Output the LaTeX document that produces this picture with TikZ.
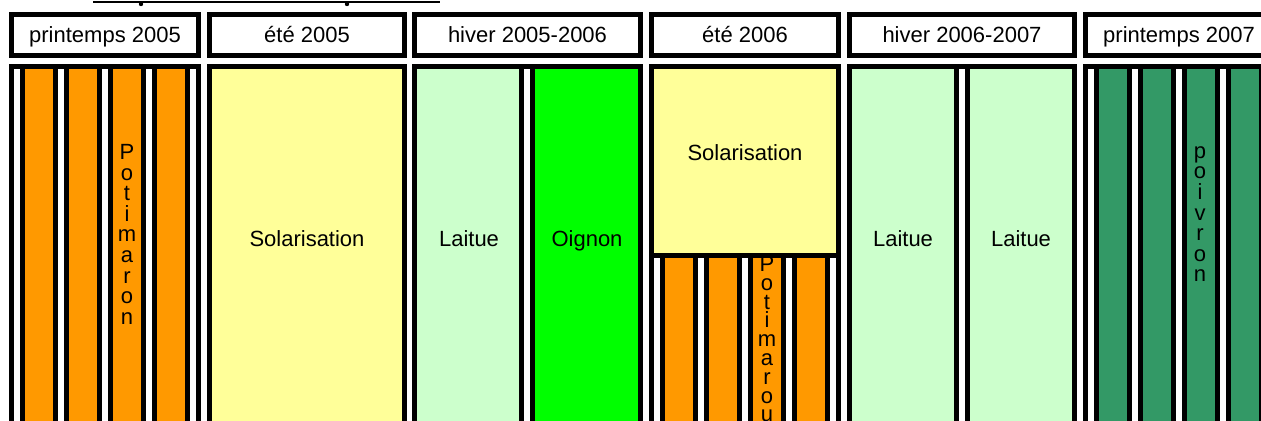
\documentclass[tikz,border=0pt]{standalone}
\usepackage{fontspec}
\setmainfont{Liberation Sans}
\definecolor{potiron}{HTML}{FF9900}
\definecolor{solaire}{HTML}{FFFF99}
\definecolor{laitue}{HTML}{CCFFCC}
\definecolor{oignon}{HTML}{00FF00}
\definecolor{poivron}{HTML}{339966}

\begin{document}
\begin{tikzpicture}[x=0.5pt, y=-0.5pt,
    cell/.style={draw, line width=2.5pt},
    label/.style={font=\fontsize{11}{13}\selectfont, anchor=base},
    lettres/.style={font=\fontsize{11}{10.3}\selectfont, align=center, inner sep=0pt, anchor=north}]
\useasboundingbox (0,0) rectangle (1261,421);

% trait du haut
\coordinate (ga) at (93,2.5);
\coordinate (dr) at (440,2.5);
\coordinate (p1) at (141,4);
\coordinate (p2) at (347,4);
\draw[line width=1pt] (ga) -- (dr);
\fill (p1) circle (2.2);
\fill (p2) circle (2.2);

% saisons
\draw[cell] (11.5,14.5) rectangle (198.5,55.5);
\draw[cell] (209.5,14.5) rectangle (404.5,55.5);
\draw[cell] (414.5,14.5) rectangle (640.5,55.5);
\draw[cell] (651.5,14.5) rectangle (838.5,55.5);
\draw[cell] (849.5,14.5) rectangle (1074.5,55.5);
\draw[cell] (1085.5,14.5) rectangle (1272.5,55.5);
\node[label] (s1) at (105,43) {printemps 2005};
\node[label] (s2) at (307,43) {été 2005};
\node[label] (s3) at (527.5,43) {hiver 2005-2006};
\node[label] (s4) at (745,43) {été 2006};
\node[label] (s5) at (962,43) {hiver 2006-2007};
\node[label] (s6) at (1179,43) {printemps 2007};

% printemps 2005
\draw[cell] (11.5,66.5) rectangle (198.5,440);
\foreach \x in {22.5,66.5,110.5,154.5}
    \draw[cell, fill=potiron] (\x,66.5) rectangle (\x+33,440);
\node[lettres] (pot1) at (127,144) {P\\o\\t\\i\\m\\a\\r\\o\\n};

% ete 2005
\draw[cell, fill=solaire] (209.5,66.5) rectangle (404.5,440);
\node[label] (sol1) at (307,247) {Solarisation};

% hiver 2005-2006
\draw[cell] (414.5,66.5) rectangle (640.5,440);
\draw[cell, fill=laitue] (414.5,66.5) rectangle (521.5,440);
\draw[cell, fill=oignon] (532.5,66.5) rectangle (640.5,440);
\node[label] (lai1) at (469,247) {Laitue};
\node[label] (oig) at (587,247) {Oignon};

% ete 2006
\draw[cell] (651.5,66.5) rectangle (838.5,440);
\draw[cell, fill=solaire] (651.5,66.5) rectangle (838.5,255.5);
\foreach \x in {662.5,706.5,750.5,794.5}
    \draw[cell, fill=potiron] (\x,255.5) rectangle (\x+33,440);
\node[label] (sol2) at (745,161) {Solarisation};
\node[lettres, font=\fontsize{11}{9.4}\selectfont] (pot2) at (767,256) {P\\o\\t\\i\\m\\a\\r\\o\\u};

% hiver 2006-2007
\draw[cell] (849.5,66.5) rectangle (1074.5,440);
\draw[cell, fill=laitue] (849.5,66.5) rectangle (956.5,440);
\draw[cell, fill=laitue] (967.5,66.5) rectangle (1074.5,440);
\node[label] (lai2) at (903,247) {Laitue};
\node[label] (lai3) at (1021,247) {Laitue};

% printemps 2007
\draw[cell] (1085.5,66.5) rectangle (1272.5,440);
\foreach \x in {1096.5,1140.5,1184.5,1228.5}
    \draw[cell, fill=poivron] (\x,66.5) rectangle (\x+33,440);
\node[lettres] (poi) at (1200,146) {p\\o\\i\\v\\r\\o\\n};
\end{tikzpicture}
\end{document}
